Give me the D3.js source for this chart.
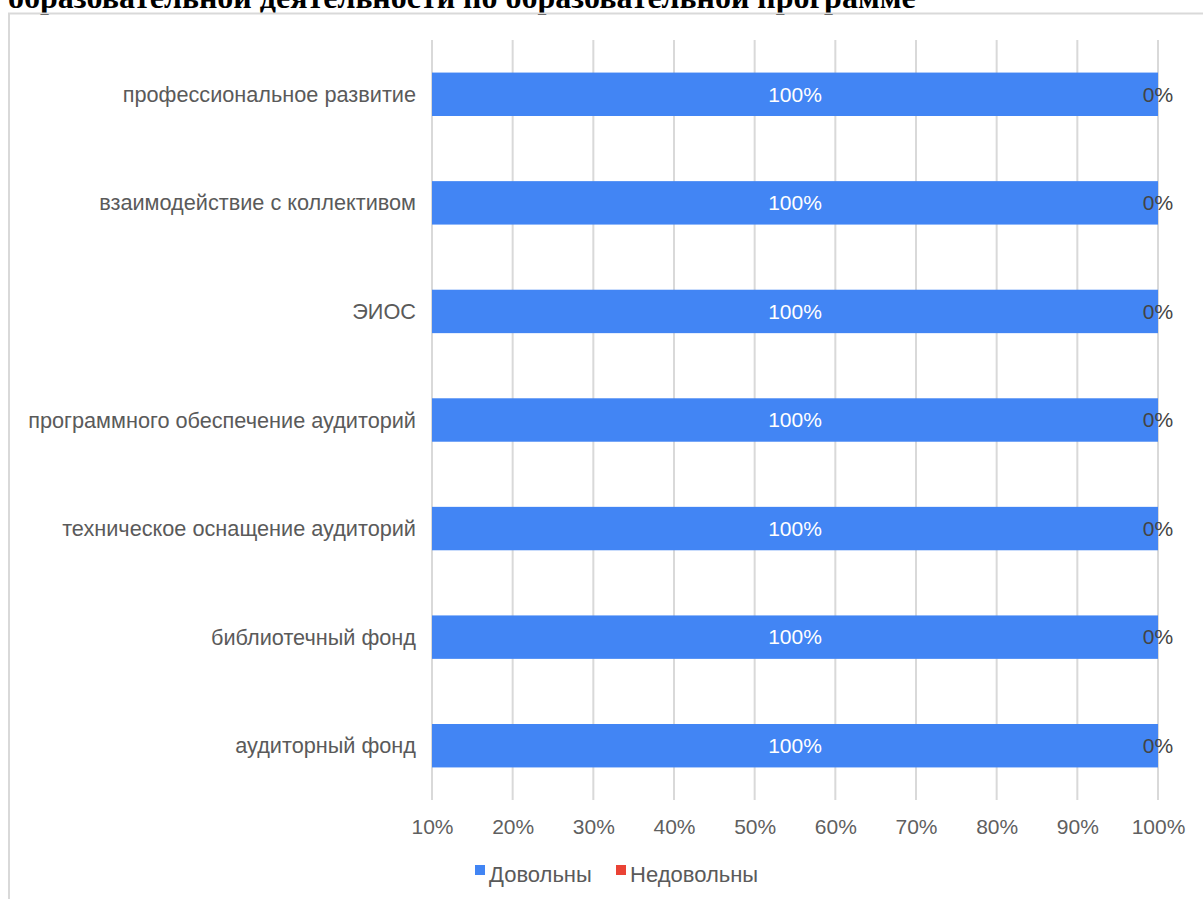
<!DOCTYPE html>
<html><head><meta charset="utf-8">
<script src="https://cdn.jsdelivr.net/npm/d3@7"></script>
<style>
html,body{margin:0;padding:0;background:#fff;overflow:hidden}
svg{display:block}
</style></head>
<body>
<svg id="chart" width="1203" height="899"></svg>
<script>
const titleText = "образовательной деятельности по образовательной программе";
const categories = [
  "профессиональное развитие",
  "взаимодействие с коллективом",
  "ЭИОС",
  "программного обеспечение аудиторий",
  "техническое оснащение аудиторий",
  "библиотечный фонд",
  "аудиторный фонд"
];
const seriesNames = ["Довольны", "Недовольны"];
const satisfied = [1, 1, 1, 1, 1, 1, 1];
const dissatisfied = [0, 0, 0, 0, 0, 0, 0];
const tickValues = [0.1, 0.2, 0.3, 0.4, 0.5, 0.6, 0.7, 0.8, 0.9, 1.0];
const colors = ["#4285f4", "#ea4335"];

const svg = d3.select("#chart");
const FONT = "'Liberation Sans', Arial, sans-serif";

// title (partly above the visible area, as in the reference)
svg.append("text").attr("x", 8).attr("y", 8)
  .attr("font-family", "'Liberation Serif', 'Times New Roman', serif")
  .attr("font-weight", "bold").attr("font-size", 32).attr("fill", "#000")
  .text(titleText);

// chart frame (top and left borders)
svg.append("line").attr("x1", 8).attr("x2", 1203).attr("y1", 13.5).attr("y2", 13.5)
  .attr("stroke", "#d9d9d9").attr("stroke-width", 2);
svg.append("line").attr("x1", 9).attr("x2", 9).attr("y1", 13).attr("y2", 899)
  .attr("stroke", "#d9d9d9").attr("stroke-width", 2);

const x = d3.scaleLinear().domain([0.1, 1]).range([432, 1158]).clamp(true);
const y = d3.scaleBand().domain(categories).range([40, 800]).paddingInner(0.6).paddingOuter(0.3);

// gridlines
svg.append("g").selectAll("line").data(tickValues).join("line")
  .attr("x1", d => x(d)).attr("x2", d => x(d))
  .attr("y1", 40).attr("y2", 800)
  .attr("stroke", "#d9d9d9").attr("stroke-width", 2);

// x axis tick labels
const xAxis = d3.axisBottom(x).tickValues(tickValues).tickSize(0).tickPadding(0)
  .tickFormat(d3.format(".0%"));
const gx = svg.append("g").attr("transform", "translate(0,834)").call(xAxis);
gx.select(".domain").remove();
gx.selectAll("text").attr("font-family", FONT).attr("font-size", 21).attr("fill", "#5f5f5f").attr("dy", 0);

// y axis labels
const yAxis = d3.axisLeft(y).tickSize(0).tickPadding(0);
const gy = svg.append("g").attr("transform", "translate(416,0)").call(yAxis);
gy.select(".domain").remove();
gy.selectAll("text").attr("font-family", FONT).attr("font-size", 21.7).attr("fill", "#5a5a5a").attr("dy", "0.35em");

// stacked data
const rows = categories.map((c, i) => ({cat: c, "Довольны": satisfied[i], "Недовольны": dissatisfied[i]}));
const stack = d3.stack().keys(seriesNames)(rows);

const layers = svg.append("g").selectAll("g").data(stack).join("g")
  .attr("fill", (d, i) => colors[i]);
layers.selectAll("rect").data(d => d).join("rect")
  .attr("x", d => x(d[0]))
  .attr("width", d => Math.max(0, x(d[1]) - x(d[0])))
  .attr("y", d => y(d.data.cat))
  .attr("height", y.bandwidth());

// value labels
stack.forEach((layer, li) => {
  svg.append("g").selectAll("text").data(layer).join("text")
    .attr("x", d => (x(d[0]) + x(d[1])) / 2)
    .attr("y", d => y(d.data.cat) + y.bandwidth() / 2)
    .attr("dy", "0.35em")
    .attr("text-anchor", "middle")
    .attr("font-family", FONT).attr("font-size", 21)
    .attr("fill", li === 0 ? "#ffffff" : "#444444")
    .text(d => d3.format(".0%")(d[1] - d[0]));
});

// legend
const legendX = [475, 616];
const lg = svg.append("g");
seriesNames.forEach((s, i) => {
  lg.append("rect").attr("x", legendX[i]).attr("y", 865).attr("width", 10).attr("height", 10).attr("fill", colors[i]);
  lg.append("text").attr("x", legendX[i] + 14).attr("y", 882)
    .attr("font-family", FONT).attr("font-size", 22).attr("fill", "#5a5a5a").text(s);
});
</script>
</body></html>
